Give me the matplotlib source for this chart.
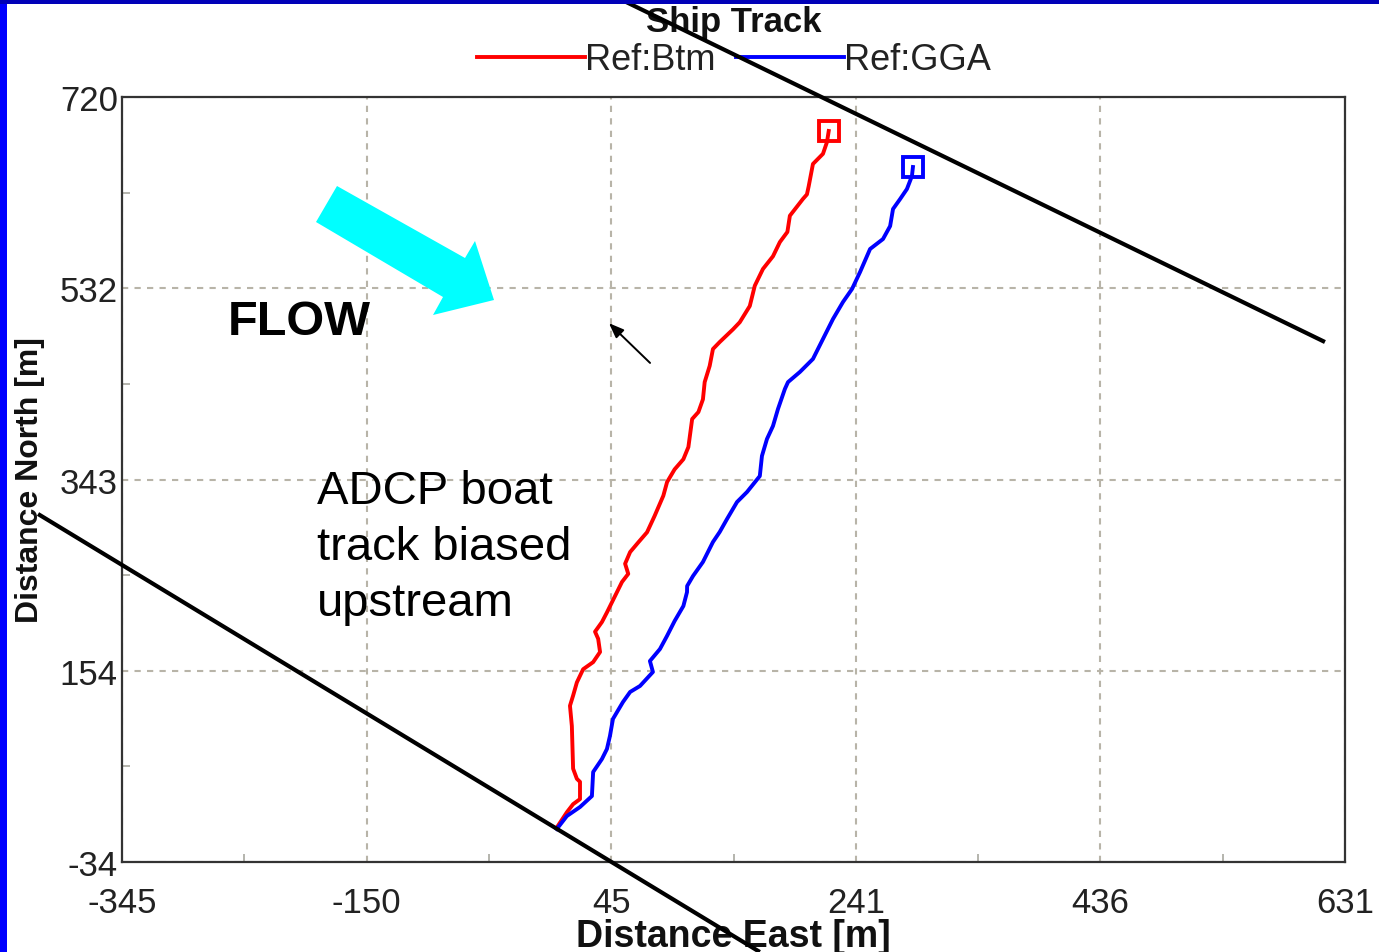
import matplotlib
matplotlib.use("Agg")
import matplotlib.pyplot as plt
import numpy as np
from matplotlib.patches import Polygon, Rectangle

# ---------------- data ----------------
btm_east = [2, 10, 15, 20.5, 20.5, 18, 15, 14, 12.5, 15, 18, 23, 31, 36.5, 35, 32.5, 38, 42, 50, 54,
            59, 56.5, 60.5, 67, 74, 80, 87, 90, 96, 103, 107, 110, 115, 118.6, 120, 124, 126.6, 132,
            142.6, 148, 156, 160, 166.5, 174.5, 180, 186, 188, 198.4, 201.6, 203, 206.4, 214.4, 217.6, 219]
btm_north = [0, 15, 23, 28, 45, 48, 58, 100, 120, 130, 143, 156, 163, 173, 186, 193, 202.5, 212, 232, 242,
             250, 260, 271.5, 281, 291, 307, 327, 340.5, 353, 363, 375, 402.6, 409.5, 422, 439, 455, 471.6,
             478.5, 491, 498, 514, 534, 550.5, 563, 577, 587, 603, 619.5, 624, 632, 654, 664, 675.6, 686.5]

gga_east = [2, 10, 20.5, 30, 31, 38, 42, 44.4, 46.8, 54.8, 60.5, 68.4, 78.7, 76.3, 84.3, 89.9, 96, 103,
            105.9, 106, 110.7, 118.6, 126.6, 132, 137.8, 145.8, 153.8, 164, 165.7, 169.7, 174.5, 178.5,
            184, 186.5, 196, 206.4, 214.4, 222.4, 230.4, 237.6, 244, 252, 262.3, 268, 270.3, 276, 281.4,
            285.4, 286.2]
gga_north = [-1.5, 11.3, 20.2, 31, 54.7, 67.5, 77.4, 90.2, 107, 123.7, 133.6, 139.5, 153.3, 164.1, 175.9,
             188.7, 203.5, 218.3, 232, 238, 247.9, 261.7, 281.4, 291.3, 304, 320.8, 330.7, 346.4, 366.2,
             382.9, 395.7, 412.5, 432.2, 439, 449, 461.8, 481.5, 501.2, 518, 530.8, 547.5, 570.2, 580,
             592.8, 609.6, 619.5, 629.3, 642.1, 651]

x_tick_labels = ["-345", "-150", "45", "241", "436", "631"]
y_tick_labels = ["-34", "154", "343", "532", "720"]
x_min, x_max = -345, 631
y_min, y_max = -34, 720

series_names = ["Ref:Btm", "Ref:GGA"]

# bank lines (data coordinates, drawn beyond axes)
bank_upper_east = [52.4, 615]
bank_upper_north = [816.6, 478.5]
bank_lower_east = [-412, 164]
bank_lower_north = [309, -122.7]

# ---------------- figure ----------------
W, H = 1379, 953
fig = plt.figure(figsize=(W / 100, H / 100), dpi=100)
fig.patch.set_facecolor("white")
FAM = ["Liberation Sans", "DejaVu Sans"]

def pf(x, y):
    return (x / W, 1 - y / H)

L, R, T, B = 122, 1345, 98, 863
ax = fig.add_axes([L / W, 1 - B / H, (R - L) / W, (B - T) / H])
ax.set_xlim(x_min, x_max)
ax.set_ylim(y_min, y_max)

xt = np.linspace(x_min, x_max, len(x_tick_labels))
yt = np.linspace(y_min, y_max, len(y_tick_labels))
ax.set_xticks(xt)
ax.set_xticklabels(x_tick_labels)
ax.set_yticks(yt)
ax.set_yticklabels(y_tick_labels)
ax.set_xticks((xt[:-1] + xt[1:]) / 2, minor=True)
ax.set_yticks((yt[:-1] + yt[1:]) / 2, minor=True)

for lab in ax.get_xticklabels() + ax.get_yticklabels():
    lab.set_fontfamily(FAM)
    lab.set_fontsize(25)
    lab.set_color("#222222")
ax.tick_params(axis="both", which="major", length=0)
ax.tick_params(axis="x", which="major", pad=17)
ax.tick_params(axis="y", which="major", pad=3)
ax.tick_params(axis="both", which="minor", direction="in", length=6, width=1.2, color="#a8a8a0")

ax.grid(True, which="major", color="#b8b4a8", linestyle=(0, (3, 3)), linewidth=1.5)
ax.set_axisbelow(True)
for s in ax.spines.values():
    s.set_color("#333333")
    s.set_linewidth(1.6)

# tracks
ax.plot(btm_east, btm_north, color="#ff0000", lw=2.8, label=series_names[0], zorder=3)
ax.plot(gga_east, gga_north, color="#0000ff", lw=2.8, label=series_names[1], zorder=3)
ax.plot(btm_east[-1], btm_north[-1], marker="s", ms=14, mfc="none", mec="#ff0000", mew=2.8, zorder=4)
ax.plot(gga_east[-1], gga_north[-1], marker="s", ms=14, mfc="none", mec="#0000ff", mew=2.8, zorder=4)

# title / labels
ax.set_title("Ship Track", fontsize=25, fontweight="bold", color="#111111",
             family=FAM, y=(B - 23) / (B - T), va="center", pad=0)
ax.set_xlabel("Distance East [m]", fontsize=27, fontweight="bold", color="#111111", family=FAM)
ax.xaxis.set_label_coords(0.5, (B - 937) / (B - T))
ax.xaxis.label.set_va("center")
ax.set_ylabel("Distance North [m]", fontsize=23, fontweight="bold", color="#111111", family=FAM)
ax.yaxis.set_label_coords((30 - L) / (R - L), (B - 480) / (B - T))
ax.yaxis.label.set_va("center")

leg = ax.legend(loc="center", bbox_to_anchor=pf(734, 61), bbox_transform=fig.transFigure,
                ncol=2, frameon=False, handlelength=3.0, handletextpad=0.0, columnspacing=0.55,
                prop=dict(family=FAM, size=26), borderpad=0)
for t in leg.get_texts():
    t.set_color("#222222")

# bank lines
ax.plot(bank_upper_east, bank_upper_north, color="black", lw=3, clip_on=False, zorder=10,
        solid_capstyle="butt")
ax.plot(bank_lower_east, bank_lower_north, color="black", lw=3, clip_on=False, zorder=10,
        solid_capstyle="butt")

# small black arrow
ax.annotate("", xy=(42, 499), xytext=(78, 456),
            arrowprops=dict(arrowstyle="-|>,head_length=0.9,head_width=0.35", color="black", lw=1.4),
            zorder=6)

# cyan flow arrow
arrow_px = [(337, 187), (465, 259), (475, 242), (494, 301), (433, 316), (443, 298), (316, 223)]
poly = Polygon([pf(x, y) for x, y in arrow_px], closed=True, facecolor="#00ffff",
               edgecolor="none", transform=fig.transFigure, clip_on=False, zorder=5)
ax.add_patch(poly)

fig.text(*pf(228, 323), "FLOW", fontsize=35, fontweight="bold", color="black",
         family=FAM, ha="left", va="center")
fig.text(*pf(317, 548), "ADCP boat\ntrack biased\nupstream", fontsize=34, color="black",
         family=FAM, ha="left", va="center", linespacing=1.36)

# blue slide border
fig.add_artist(Rectangle((0, 0), 7 / W, 1, transform=fig.transFigure, facecolor="#0000ff",
                         edgecolor="none", zorder=20))
fig.add_artist(Rectangle((0, 1 - 5 / H), 1, 5 / H, transform=fig.transFigure, facecolor="#0000b8",
                         edgecolor="none", zorder=20))

fig.savefig("out.png", dpi=100, facecolor="white")
